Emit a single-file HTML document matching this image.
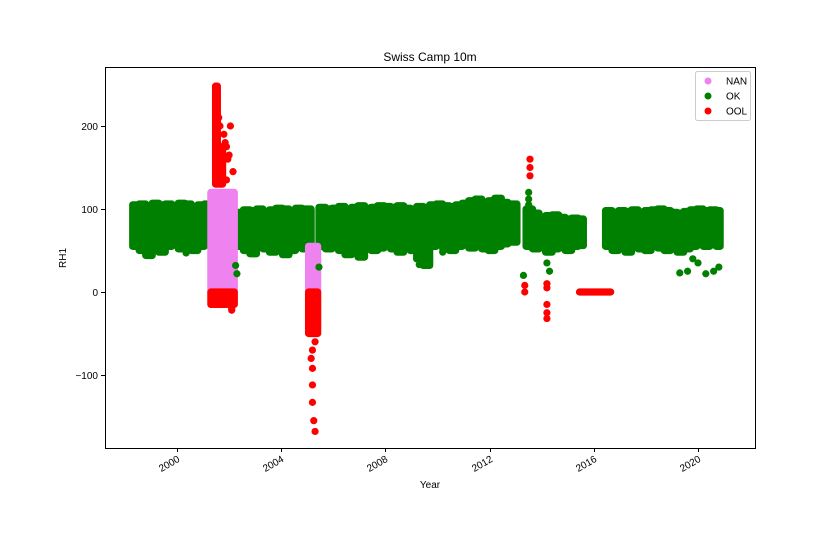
<!DOCTYPE html>
<html><head><meta charset="utf-8"><style>
body{margin:0;background:#fff;}
svg{display:block;font-family:"Liberation Sans",sans-serif;}
</style></head><body>
<svg id="chart" width="840" height="560">
<rect x="0" y="0" width="840" height="560" fill="#fff"/>
<g id="marks"></g>
<rect x="105.5" y="67.5" width="650" height="381" fill="none" stroke="#000" stroke-width="1"/>
<g id="axes"></g>
<text x="430" y="61" text-anchor="middle" font-size="12">Swiss Camp 10m</text>
<text x="430" y="488" text-anchor="middle" font-size="10">Year</text>
<text transform="translate(66,258) rotate(-90)" text-anchor="middle" font-size="10">RH1</text>
<g>
<rect x="695.5" y="71.5" width="55" height="49" rx="2" fill="#fff" stroke="#ccc"/>
<g><circle cx="708" cy="81" r="3.5" fill="#ee82ee"/><text x="726" y="84.5" font-size="10">NAN</text></g>
<g><circle cx="708" cy="96" r="3.5" fill="#008000"/><text x="726" y="99.5" font-size="10">OK</text></g>
<g><circle cx="708" cy="111" r="3.5" fill="#ff0000"/><text x="726" y="114.5" font-size="10">OOL</text></g>
</g>
</svg>
<script>
// Green (OK) bands: start year, end year, low, high
const okStart=[1998.3,1998.55,1998.8,1999.05,1999.3,1999.55,1999.8,2000.05,2000.3,2000.55,2000.8,2001.05,2001.3,
2002.3,2002.55,2002.8,2003.05,2003.3,2003.55,2003.8,2004.05,2004.3,2004.55,2004.8,
2005.45,2005.7,2005.95,2006.2,2006.45,2006.7,2006.95,2007.2,2007.45,2007.7,2007.95,2008.2,2008.45,2008.7,2008.95,2009.2,2009.45,2009.7,2009.95,2010.2,2010.45,2010.7,2010.95,2011.2,2011.45,2011.7,2011.95,2012.2,2012.45,2012.7,
2013.4,2013.65,2013.9,2014.15,2014.4,2014.65,2014.9,2015.15,2015.4,
2016.45,2016.7,2016.95,2017.2,2017.45,2017.7,2017.95,2018.2,2018.45,2018.7,2018.95,2019.2,2019.45,2019.7,2019.95,2020.2,2020.45,2020.7];
const okEnd=[1998.55,1998.8,1999.05,1999.3,1999.55,1999.8,2000.05,2000.3,2000.55,2000.8,2001.05,2001.3,2001.5,
2002.55,2002.8,2003.05,2003.3,2003.55,2003.8,2004.05,2004.3,2004.55,2004.8,2005.15,
2005.7,2005.95,2006.2,2006.45,2006.7,2006.95,2007.2,2007.45,2007.7,2007.95,2008.2,2008.45,2008.7,2008.95,2009.2,2009.45,2009.7,2009.95,2010.2,2010.45,2010.7,2010.95,2011.2,2011.45,2011.7,2011.95,2012.2,2012.45,2012.7,2013.05,
2013.65,2013.9,2014.15,2014.4,2014.65,2014.9,2015.15,2015.4,2015.6,
2016.7,2016.95,2017.2,2017.45,2017.7,2017.95,2018.2,2018.45,2018.7,2018.95,2019.2,2019.45,2019.7,2019.95,2020.2,2020.45,2020.7,2020.85];
const okLow=[55,50,44,52,48,55,58,52,56,50,55,58,53,
55,50,46,55,52,48,56,45,50,55,52,
55,52,58,50,45,52,42,55,50,53,56,52,48,55,50,40,32,55,58,52,50,55,57,53,56,52,50,55,58,60,
55,52,55,48,52,55,50,55,56,
55,50,52,48,55,52,50,55,53,50,55,48,52,55,58,55,57,55];
const okHigh=[105,106,104,107,105,106,104,107,106,103,105,106,104,
96,99,98,100,97,99,101,100,98,101,100,
102,100,101,103,100,102,104,101,102,104,103,102,104,101,100,103,102,105,106,104,103,105,107,110,112,108,110,113,108,106,
100,95,90,92,93,90,88,89,88,
98,96,98,97,99,96,98,99,100,98,96,95,97,99,100,98,99,98];
// Single OK points: year, value
const okPtX=[2000.35,2002.25,2002.3,2005.45,2009.2,2009.3,2010.2,2013.3,2013.5,2013.5,2013.5,2014.2,2014.3,2019.3,2019.6,2019.8,2020.0,2020.3,2020.6,2020.8];
const okPtY=[47,32,22,30,40,33,48,20,120,112,105,35,25,23,25,40,35,22,25,30];
// NAN bands
const nanStart=[2001.3,2005.05];
const nanEnd=[2002.2,2005.4];
const nanLow=[0,0];
const nanHigh=[120,55];
// OOL bands
const oolStart=[2001.3,2001.48,2001.6,2005.05,2015.45];
const oolEnd=[2002.2,2001.55,2001.75,2005.4,2016.65];
const oolLow=[-15,130,130,-50,0];
const oolHigh=[0,248,175,0,0];
// Single OOL points
const oolPtX=[2001.6,2001.65,2001.8,2001.9,2002.0,2002.05,2001.85,2001.95,2002.1,2002.1,2002.15,2001.9,2005.2,2005.2,2005.2,2005.2,2005.25,2005.3,2005.3,2005.15,2013.35,2013.35,2013.55,2013.55,2013.55,2014.2,2014.2,2014.2,2014.2,2014.2];
const oolPtY=[210,200,190,175,165,200,180,160,-20,-22,145,135,-70,-92,-112,-133,-155,-168,-60,-80,8,0,160,150,140,10,5,-15,-25,-32];
const yTicks=[-100,0,100,200];
const xTicks=[2000,2004,2008,2012,2016,2020];

const X=t=>177+(t-2000)*26.05;
const Y=v=>292-v*0.83;
const NS='http://www.w3.org/2000/svg';
const marks=document.getElementById('marks');
const axes=document.getElementById('axes');
const R=3.6;
function band(s,e,lo,hi,col,name){
  const r=document.createElementNS(NS,'rect');
  r.setAttribute('x',X(s)-R);r.setAttribute('width',X(e)-X(s)+2*R);
  r.setAttribute('y',Y(hi)-R);r.setAttribute('height',Y(lo)-Y(hi)+2*R);
  r.setAttribute('rx',R);r.setAttribute('fill',col);
  
  
  marks.appendChild(r);
}
function pt(t,v,col,name){
  const c=document.createElementNS(NS,'circle');
  c.setAttribute('cx',X(t));c.setAttribute('cy',Y(v));c.setAttribute('r',R);c.setAttribute('fill',col);
  
  
  marks.appendChild(c);
}
okStart.forEach((s,i)=>band(s,okEnd[i],okLow[i],okHigh[i],'#008000','ok-band'));
nanStart.forEach((s,i)=>band(s,nanEnd[i],nanLow[i],nanHigh[i],'#ee82ee','nan-band'));
oolStart.forEach((s,i)=>band(s,oolEnd[i],oolLow[i],oolHigh[i],'#ff0000','ool-band'));
okPtX.forEach((t,i)=>pt(t,okPtY[i],'#008000','ok-point'));
oolPtX.forEach((t,i)=>pt(t,oolPtY[i],'#ff0000','ool-point'));
yTicks.forEach(v=>{
  const y=Math.round(Y(v))+0.5;
  const l=document.createElementNS(NS,'line');
  l.setAttribute('x1',101);l.setAttribute('x2',105);l.setAttribute('y1',y);l.setAttribute('y2',y);l.setAttribute('stroke','#000');
  
  
  axes.appendChild(l);
  const t=document.createElementNS(NS,'text');
  t.setAttribute('x',98);t.setAttribute('y',y+3.5);t.setAttribute('text-anchor','end');t.setAttribute('font-size','10');
  t.textContent=v<0?'\u2212'+(-v):String(v);
  
  
  axes.appendChild(t);
});
xTicks.forEach(v=>{
  const x=Math.round(X(v))+0.5;
  const l=document.createElementNS(NS,'line');
  l.setAttribute('x1',x);l.setAttribute('x2',x);l.setAttribute('y1',448);l.setAttribute('y2',452);l.setAttribute('stroke','#000');
  
  
  axes.appendChild(l);
  const t=document.createElementNS(NS,'text');
  t.setAttribute('transform','translate('+(x+3)+',461) rotate(-30)');t.setAttribute('text-anchor','end');t.setAttribute('font-size','10');
  t.textContent=String(v);
  
  
  axes.appendChild(t);
});
</script>
</body></html>
